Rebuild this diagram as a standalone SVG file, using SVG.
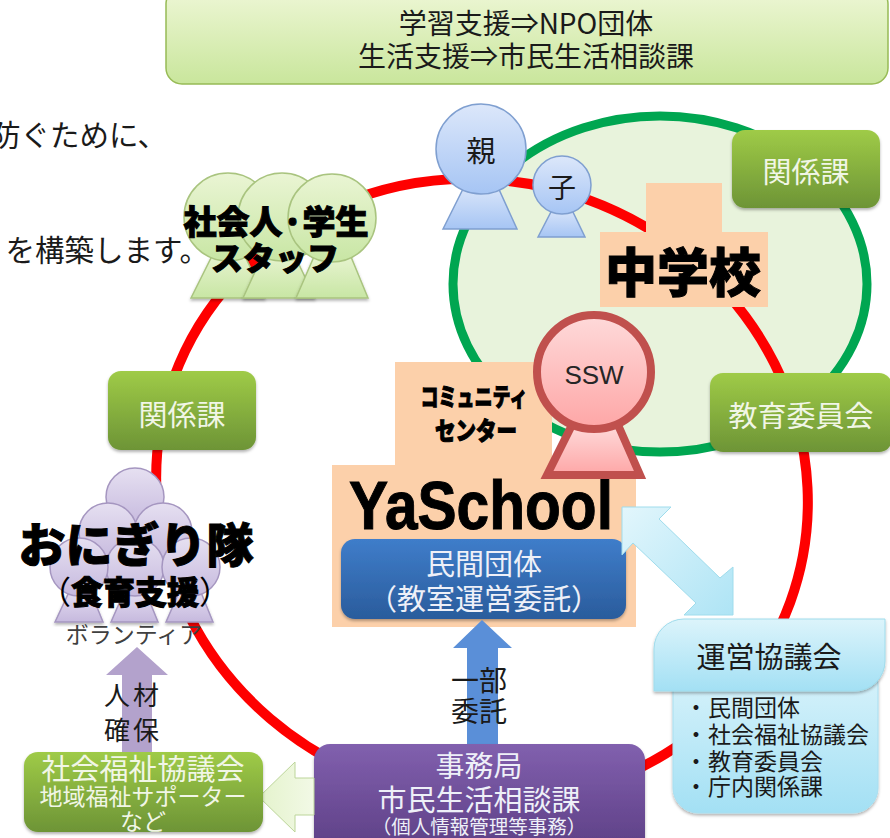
<svg xmlns="http://www.w3.org/2000/svg" width="890" height="838" viewBox="0 0 890 838">
<defs>
<linearGradient id="gGreen" x1="0" y1="0" x2="0" y2="1"><stop offset="0" stop-color="#9fcb47"/><stop offset="1" stop-color="#6d9436"/></linearGradient>
<linearGradient id="gTop" x1="0" y1="0" x2="0" y2="1"><stop offset="0" stop-color="#eef7d6"/><stop offset="1" stop-color="#c9e69c"/></linearGradient>
<linearGradient id="gLeaf" x1="0" y1="0" x2="0" y2="1"><stop offset="0" stop-color="#eaf5d4"/><stop offset="1" stop-color="#c8e6a4"/></linearGradient>
<linearGradient id="gBlue" x1="0" y1="0" x2="0" y2="1"><stop offset="0" stop-color="#dce7fa"/><stop offset="1" stop-color="#a6c5f4"/></linearGradient>
<linearGradient id="gPink" x1="0" y1="0" x2="0" y2="1"><stop offset="0" stop-color="#fedada"/><stop offset="1" stop-color="#fea6a6"/></linearGradient>
<linearGradient id="gLilac" x1="0" y1="0" x2="0" y2="1"><stop offset="0" stop-color="#e6e0f1"/><stop offset="1" stop-color="#c6b9de"/></linearGradient>
<linearGradient id="gDeep" x1="0" y1="0" x2="0" y2="1"><stop offset="0" stop-color="#3f7dca"/><stop offset="1" stop-color="#2a5c9c"/></linearGradient>
<linearGradient id="gPurple" x1="0" y1="0" x2="0" y2="1"><stop offset="0" stop-color="#8160ae"/><stop offset="1" stop-color="#5c3e84"/></linearGradient>
<linearGradient id="gCyan" x1="0" y1="0" x2="0" y2="1"><stop offset="0" stop-color="#dcf4fb"/><stop offset="1" stop-color="#a3e0f4"/></linearGradient>
<linearGradient id="gArrowC" x1="0" y1="0" x2="1" y2="1"><stop offset="0" stop-color="#e2f6fc"/><stop offset="1" stop-color="#aee4f5"/></linearGradient>
<linearGradient id="gArrowG" x1="0" y1="0" x2="1" y2="0"><stop offset="0" stop-color="#e4f3cc"/><stop offset="1" stop-color="#f2f9e6"/></linearGradient>
<filter id="sh" x="-10%" y="-10%" width="120%" height="125%"><feDropShadow dx="0" dy="2" stdDeviation="1.8" flood-color="#000" flood-opacity="0.3"/></filter>
</defs>
<style>
text{font-family:"Noto Sans CJK JP","Noto Sans",sans-serif;text-anchor:middle}
.w{fill:#f1f6e6}
.wb{fill:#eef0f8}
.k{fill:#1a1a1a}
.b{fill:#000;font-weight:900;stroke:#000;stroke-width:1}
.peach{fill:#fcd0aa}
.leaf path,.leaf circle{fill:url(#gLeaf);stroke:#a9c47f;stroke-width:1.5}
.blue path,.blue circle{fill:url(#gBlue);stroke:#7f9fd0;stroke-width:1.5}
.lilac path,.lilac circle{fill:url(#gLilac);stroke:#a596c0;stroke-width:1.5}
.ring{fill:none;stroke:#fe0000;stroke-width:10}
</style>

<g id="note">
<rect x="166" y="-12" width="722" height="96" rx="16" fill="url(#gTop)" stroke="#97bb55" stroke-width="1.5"/>
<text x="526" y="34" font-size="28" class="k">学習支援⇒NPO団体</text>
<text x="526" y="67" font-size="28" class="k">生活支援⇒市民生活相談課</text>
</g>
<g id="body-text">
<text x="167" y="146" font-size="29.500" class="k" style="text-anchor:end">防ぐために、</text>
<text x="209" y="261" font-size="29.500" class="k" style="text-anchor:end">を構築します。</text>
</g>

<g id="school-zone">
<ellipse cx="660" cy="284" rx="207" ry="168" fill="#e8f3dc" stroke="#00a651" stroke-width="9"/>
</g>

<g id="connectors">
<ellipse class="ring" cx="482" cy="490" rx="328" ry="309" transform="rotate(20 482 490)"/>
</g>

<g id="school">
<rect class="peach" x="646" y="183" width="76" height="50"/>
<rect class="peach" x="600" y="232" width="168" height="75"/>
<text x="683" y="292" font-size="52" class="b">中学校</text>
</g>

<g id="kankeika-top">
<rect x="732" y="130" width="148" height="78" rx="13" fill="url(#gGreen)" filter="url(#sh)"/>
<text x="806" y="183" font-size="29" class="w">関係課</text>
</g>
<g id="kyoiku">
<rect x="710" y="373" width="182" height="79" rx="13" fill="url(#gGreen)" filter="url(#sh)"/>
<text x="801" y="427" font-size="29" class="w">教育委員会</text>
</g>
<g id="kankeika-left">
<rect x="108" y="371" width="148" height="79" rx="13" fill="url(#gGreen)" filter="url(#sh)"/>
<text x="182" y="426" font-size="29" class="w">関係課</text>
</g>

<g id="oya" class="blue">
<path d="M443 229L465 185H497L517 229Z"/>
<circle cx="481" cy="149" r="45"/>
<text x="481" y="162" font-size="29" class="k">親</text>
</g>
<g id="ko" class="blue">
<path d="M538 237L553 208H571L585 237Z"/>
<circle cx="562" cy="185" r="29"/>
<text x="562" y="198" font-size="28" class="k">子</text>
</g>

<g id="staff" class="leaf">
<path d="M191 298L215 250H242L265 298Z" filter="url(#sh)"/>
<circle cx="228" cy="217" r="44"/>
<path d="M243 298L265 250H292L315 298Z" filter="url(#sh)"/>
<circle cx="282" cy="217" r="44"/>
<path d="M296 298L316 252H349L368 298Z" filter="url(#sh)"/>
<circle cx="332" cy="218" r="44"/>
<text x="276" y="234" font-size="33" class="b">社会人·学生</text>
<text x="275" y="270" font-size="32" class="b">スタッフ</text>
</g>

<g id="community">
<rect class="peach" x="395" y="362" width="157" height="105"/>
<rect class="peach" x="332" y="465" width="304" height="162"/>
<text x="474" y="406" font-size="25" class="b" textLength="107" lengthAdjust="spacingAndGlyphs">コミュニティ</text>
<text x="476" y="440" font-size="25" class="b" textLength="82" lengthAdjust="spacingAndGlyphs">センター</text>
<text x="481" y="529" font-size="68" class="b" stroke-width="1.500" style="font-family:'Liberation Sans',sans-serif;font-weight:700" textLength="264" lengthAdjust="spacingAndGlyphs">YaSchool</text>
</g>

<g id="ssw">
<path d="M547 475L572 425H618L640 475Z" fill="url(#gPink)" stroke="#c0504d" stroke-width="8"/>
<circle cx="594" cy="372" r="57" fill="url(#gPink)" stroke="#c0504d" stroke-width="8"/>
<text x="594" y="384" font-size="26" fill="#262626" style="font-family:'Liberation Sans',sans-serif">SSW</text>
</g>

<g id="minkan">
<rect x="341" y="539" width="285" height="80" rx="14" fill="url(#gDeep)" filter="url(#sh)"/>
<text x="484" y="575" font-size="29" class="wb">民間団体</text>
<text x="484" y="610" font-size="29" class="wb">（教室運営委託）</text>
</g>

<g id="arrow-itaku">
<path d="M482 620L512 648H498V746H467V648H453Z" fill="#5a8fd8"/>
<text x="479" y="691" font-size="28" class="k">一部</text>
<text x="479" y="722" font-size="28" class="k">委託</text>
</g>

<g id="arrow-kyogi">
<path d="M622 507H671L659 519L720 578L733 567V615H684L696 603L633 543L622 555Z" fill="url(#gArrowC)" stroke="#9fdcec" stroke-width="1"/>
</g>

<g id="unei">
<rect x="673" y="660" width="205" height="153" rx="25" fill="url(#gCyan)" stroke="#a8dff0" filter="url(#sh)"/>
<path d="M684 619H885V661A30 30 0 0 1 855 691H654V649A30 30 0 0 1 684 619Z" fill="url(#gCyan)" stroke="#9fdcec" filter="url(#sh)"/>
<text x="769" y="668" font-size="29" class="k">運営協議会</text>
<g font-size="23" class="k">
<text x="696" y="716">・</text><text x="708" y="716" style="text-anchor:start">民間団体</text>
<text x="696" y="743">・</text><text x="708" y="743" style="text-anchor:start">社会福祉協議会</text>
<text x="696" y="770">・</text><text x="708" y="770" style="text-anchor:start">教育委員会</text>
<text x="696" y="795">・</text><text x="708" y="795" style="text-anchor:start">庁内関係課</text>
</g>
</g>

<g id="jimukyoku">
<rect x="314" y="744" width="331" height="110" rx="16" fill="url(#gPurple)" filter="url(#sh)"/>
<text x="479" y="777" font-size="29" class="wb">事務局</text>
<text x="479" y="811" font-size="29" class="wb">市民生活相談課</text>
<text x="479" y="834" font-size="19.500" class="wb">（個人情報管理等事務）</text>
</g>

<g id="arrow-shakyo">
<path d="M259 797L295 762V778H314V815H295V832Z" fill="url(#gArrowG)" stroke="#bcd59a" stroke-width="1"/>
</g>

<g id="shakyo">
<rect x="24" y="752" width="239" height="80" rx="14" fill="url(#gGreen)" filter="url(#sh)"/>
<text x="143" y="780" font-size="29" class="w">社会福祉協議会</text>
<text x="143" y="805" font-size="23" class="w">地域福祉サポーター</text>
<text x="143" y="830" font-size="23" class="w">など</text>
</g>

<g id="arrow-jinzai">
<path d="M137 647L168 675H152V752H122V675H106Z" fill="#b3a2cc"/>
<text x="133" y="705" font-size="26" class="k" letter-spacing="3">人材</text>
<text x="133" y="740" font-size="26" class="k" letter-spacing="3">確保</text>
</g>

<g id="onigiri" class="lilac">
<path d="M55 622L70 590H90L103 622Z" filter="url(#sh)"/>
<path d="M111 622L125 590H145L158 622Z" filter="url(#sh)"/>
<path d="M166 622L180 590H200L213 622Z" filter="url(#sh)"/>
<circle cx="135" cy="497" r="29"/>
<circle cx="108" cy="532" r="29"/>
<circle cx="163" cy="532" r="29"/>
<circle cx="135" cy="567" r="29"/>
<circle cx="79" cy="567" r="29"/>
<circle cx="191" cy="567" r="29"/>
<text x="136" y="562" font-size="47" class="b">おにぎり隊</text>
<text x="135" y="604" font-size="32" class="b"><tspan font-weight="400" stroke-width="0">（</tspan>食育支援<tspan font-weight="400" stroke-width="0">）</tspan></text>
<text x="134" y="643" font-size="23" fill="#404040">ボランティア</text>
</g>
</svg>
